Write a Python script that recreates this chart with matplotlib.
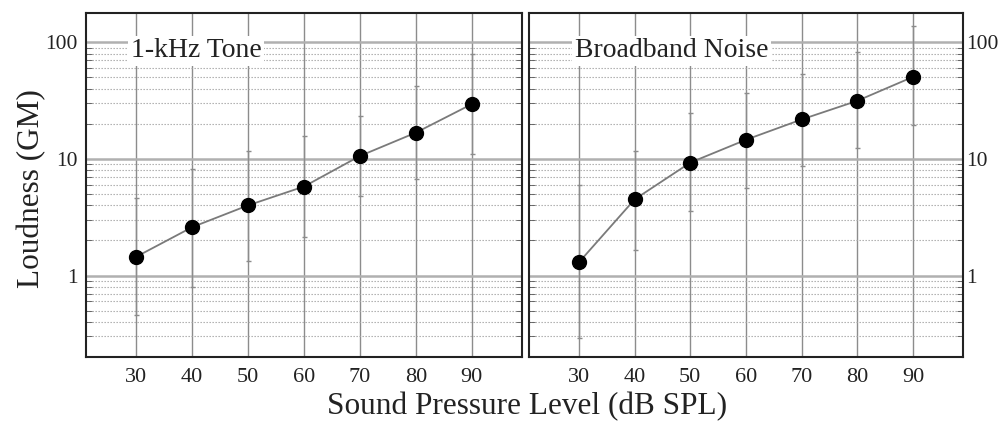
import numpy as np
import matplotlib.pyplot as plt
from matplotlib.ticker import LogLocator, FixedLocator, NullFormatter

# Data
spl = [30, 40, 50, 60, 70, 80, 90]

tone_gm = [1.45, 2.6, 4.0, 5.8, 10.6, 16.8, 29.5]
tone_hi = [4.6, 8.2, 11.7, 15.7, 23.3, 42.0, 80.0]
tone_lo = [0.46, 0.80, 1.32, 2.15, 4.8, 6.7, 11.0]

noise_gm = [1.3, 4.5, 9.3, 14.6, 21.8, 31.5, 50.5]
noise_hi = [6.0, 11.7, 24.7, 37.0, 53.0, 82.0, 138.0]
noise_lo = [0.29, 1.67, 3.6, 5.6, 8.7, 12.4, 19.5]

titles = ['1-kHz Tone', 'Broadband Noise']

plt.rcParams['font.family'] = 'Liberation Serif'

fig = plt.figure(figsize=(9.98, 4.24), dpi=100)
ax1 = fig.add_axes([0.0862, 0.158, 0.4369, 0.811])
ax2 = fig.add_axes([0.530, 0.158, 0.4349, 0.811])

panels = [(ax1, tone_gm, tone_lo, tone_hi), (ax2, noise_gm, noise_lo, noise_hi)]

for i, (ax, gm, lo, hi) in enumerate(panels):
    gm = np.array(gm)
    yerr = [gm - np.array(lo), np.array(hi) - gm]
    ax.set_yscale('log')
    ax.set_xlim(21, 99)
    ax.set_ylim(0.2, 178)

    ax.set_xticks(spl)
    ax.yaxis.set_major_locator(FixedLocator([1, 10, 100]))
    ax.yaxis.set_minor_locator(LogLocator(base=10, subs=np.arange(2, 10)))
    ax.yaxis.set_minor_formatter(NullFormatter())
    ax.set_yticklabels(['1', '10', '100'])

    # grid
    ax.grid(axis='x', which='major', color='#8c8c8c', lw=1.0)
    ax.grid(axis='y', which='major', color='#b0b0b0', lw=1.8)
    ax.grid(axis='y', which='minor', color='#a5a5a5', lw=0.8, ls=(0, (1.2, 1.5)))
    ax.set_axisbelow(True)

    # error bars sit on the grid lines, only the caps stand out
    ax.errorbar(spl, gm, yerr=yerr, fmt='none', ecolor='#8c8c8c',
                elinewidth=1.0, capsize=1.8, capthick=1.0, zorder=3)
    ax.plot(spl, gm, color='#7a7a7a', lw=1.3, zorder=4)
    ax.plot(spl, gm, 'o', color='black', ms=10, zorder=5)

    ax.tick_params(axis='x', length=0, labelsize=16, pad=8, labelcolor='#222222')
    ax.tick_params(axis='y', which='major', direction='in', length=0,
                   labelsize=15.5, left=True, right=True, labelcolor='#222222')
    ax.tick_params(axis='y', which='minor', direction='in', length=4,
                   left=True, right=True, color='#555555')
    if i == 0:
        ax.tick_params(axis='y', labelleft=True, labelright=False, pad=6)
    else:
        ax.tick_params(axis='y', labelleft=False, labelright=True, pad=2)

    for s in ax.spines.values():
        s.set_linewidth(1.5)
        s.set_color('#222222')

    ax.text(0.103 if i == 0 else 0.106, 0.89, titles[i], transform=ax.transAxes,
            fontsize=20, va='center', ha='left', color='#222222',
            bbox=dict(facecolor='white', edgecolor='none', pad=2), zorder=6)

fig.text(0.032, 0.555, 'Loudness (GM)', rotation=90, fontsize=22.5,
         ha='center', va='center', color='#222222')
fig.text(0.528, 0.04, 'Sound Pressure Level (dB SPL)', fontsize=22.5,
         ha='center', va='center', color='#222222')

fig.savefig('out.png', dpi=100)
